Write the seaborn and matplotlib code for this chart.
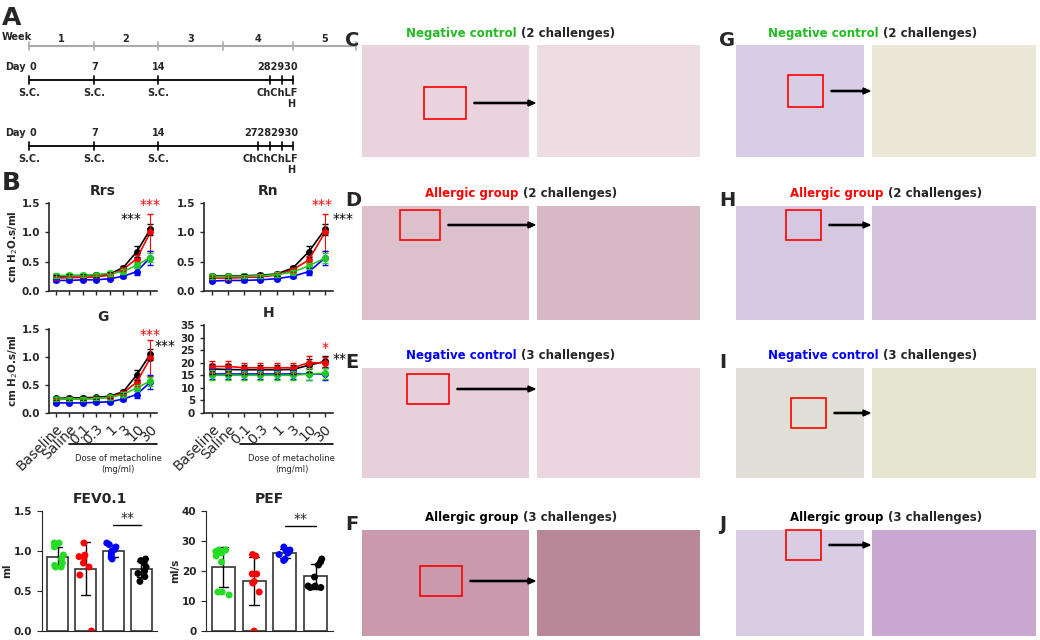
import numpy as np
import pandas as pd
import matplotlib
matplotlib.use("Agg")
import matplotlib.pyplot as plt
import seaborn as sns
from matplotlib.patches import Rectangle, FancyArrow

# ---------------- data ----------------
doses = ["Baseline", "Saline", "0.1", "0.3", "1", "3", "10", "30"]
group_names = ["Allergic 3", "Allergic 2", "Negative 3", "Negative 2"]
group_colors = ["black", "red", "blue", "#22cc22"]

rrs_black = [.25, .26, .26, .27, .29, .40, .67, 1.05]
rrs_red = [.22, .23, .23, .24, .27, .37, .55, 1.00]
rrs_blue = [.18, .18, .19, .19, .21, .25, .33, .57]
rrs_green = [.26, .27, .27, .28, .30, .33, .44, .57]
err_black = [.03, .03, .03, .03, .03, .03, .09, .10]
err_red = [.03, .03, .03, .03, .03, .03, .06, .32]
err_blue = [.02, .02, .02, .02, .02, .03, .06, .12]
err_green = [.04, .04, .03, .03, .04, .04, .05, .08]

rn_black = [.26, .26, .26, .27, .29, .39, .67, 1.05]
rn_red = [.22, .22, .23, .24, .27, .36, .53, 1.00]
rn_blue = [.17, .18, .18, .19, .21, .25, .33, .56]
rn_green = [.25, .25, .25, .26, .28, .32, .43, .56]

g_black = [.26, .27, .27, .28, .30, .38, .68, 1.05]
g_red = [.24, .25, .25, .26, .28, .36, .55, .98]
g_blue = [.18, .18, .18, .19, .20, .25, .33, .55]
g_green = [.25, .25, .25, .26, .28, .33, .45, .57]

h_black = [17.5, 17.3, 17.2, 17.2, 17.2, 17.3, 19.0, 20.5]
h_red = [18.5, 18.5, 18.0, 18.0, 18.0, 18.0, 20.0, 20.0]
h_blue = [15.5, 15.5, 15.5, 15.5, 15.5, 15.5, 15.5, 15.5]
h_green = [15.0, 15.0, 15.0, 15.0, 15.0, 15.0, 15.5, 15.8]
h_err = [2.0, 2.0, 1.8, 1.8, 1.8, 1.8, 2.5, 2.2]

bar_groups = ["Negative 2", "Allergic 2", "Negative 3", "Allergic 3"]
bar_colors = ["#22dd22", "red", "blue", "black"]
fev_green = [1.10, 1.10, 1.05, 0.95, 0.90, 0.85, 0.82, 0.80, 0.80]
fev_red = [1.10, 0.95, 0.93, 0.92, 0.85, 0.80, 0.70, 0.00]
fev_blue = [1.10, 1.08, 1.05, 1.02, 1.00, 0.98, 0.95, 0.92, 0.90]
fev_black = [0.90, 0.88, 0.85, 0.80, 0.75, 0.72, 0.68, 0.62]
pef_green = [27, 27, 26.5, 26, 25, 23, 13, 13, 12]
pef_red = [25.5, 25, 19, 19, 16.5, 16, 13, 0]
pef_blue = [28, 27, 27, 26.5, 26, 25.5, 24, 23.5]
pef_black = [24, 23, 22, 18, 15, 15, 14.5, 14.5]

W, H = 1040, 640
fig = plt.figure(figsize=(10.4, 6.4), dpi=100)
fig.patch.set_facecolor("white")
sns.set_style("ticks")
plt.rcParams["font.family"] = "DejaVu Sans"

def ax_px(x0, y0, x1, y1):
    return fig.add_axes([x0 / W, 1 - y1 / H, (x1 - x0) / W, (y1 - y0) / H])

ov = fig.add_axes([0, 0, 1, 1], zorder=-1)
ov.set_xlim(0, W); ov.set_ylim(H, 0); ov.axis("off")

# ---------------- panel A timeline ----------------
ov.text(2, 18, "A", fontsize=18, fontweight="bold", va="center")
ov.text(2, 37, "Week", fontsize=7, fontweight="bold", va="center")
ov.plot([29, 356], [46, 46], color="#aaaaaa", lw=1.5)
wk = [29, 94, 158, 223, 293, 356]
for x in wk:
    ov.plot([x, x], [42, 50], color="#aaaaaa", lw=1.2)
for i in range(5):
    ov.text((wk[i] + wk[i + 1]) / 2, 39, str(i + 1), fontsize=7, fontweight="bold", ha="center", va="center")

def timeline(y, extra):
    ov.text(5, y - 13, "Day", fontsize=7, fontweight="bold", va="center")
    ov.plot([29, 293], [y, y], color="black", lw=1.3)
    for x, lab in [(29, "0"), (94, "7"), (158, "14")]:
        ov.plot([x, x], [y - 4, y + 4], color="black", lw=1.2)
        ov.text(x + 1, y - 13, lab, fontsize=7, fontweight="bold", ha="left" if x == 29 else "center", va="center")
        ov.text(x, y + 13, "S.C.", fontsize=7, fontweight="bold", ha="center", va="center")
    for x in extra:
        ov.plot([x, x], [y - 4, y + 4], color="black", lw=1.2)
    ov.text(298, y - 13, "".join(str(d) for d in range(30 - len(extra) + 1, 31)), fontsize=7,
            fontweight="bold", ha="right", va="center")
    ov.text(298, y + 13, "Ch" * (len(extra) - 1) + "LF", fontsize=7, fontweight="bold", ha="right", va="center")
    ov.text(295, y + 24, "H", fontsize=7, fontweight="bold", ha="right", va="center")

timeline(80, [270, 282, 293])
timeline(146, [258, 270, 282, 293])

# ---------------- panel B line plots ----------------
ov.text(2, 183, "B", fontsize=18, fontweight="bold", va="center")
err_all = [err_black, err_red, err_blue, err_green]

def lineplot(ax, series, errs, ylim, yticks, title, stars, show_x):
    rows = []
    for name, vals in zip(group_names, series):
        for d, v in zip(doses, vals):
            rows.append((name, d, v))
    df = pd.DataFrame(rows, columns=["group", "dose", "value"])
    sns.lineplot(data=df, x="dose", y="value", hue="group", palette=group_colors,
                 hue_order=group_names, marker="o", markersize=5, markeredgewidth=0,
                 sort=False, legend=False, ax=ax, lw=1.2)
    for vals, e, c in zip(series, errs, group_colors):
        ax.errorbar(range(len(doses)), vals, yerr=e, fmt="none", ecolor=c, capsize=2, lw=0.8)
    ax.set_ylim(*ylim)
    ax.set_yticks(yticks)
    ax.set_xlim(-0.5, len(doses) - 0.5)
    ax.set_title(title, fontsize=10, fontweight="bold", pad=6)
    ax.set_xlabel(""); ax.set_ylabel("")
    ax.tick_params(labelsize=7.5, width=1, length=3)
    for lab in ax.get_yticklabels():
        lab.set_fontweight("bold")
    ax.set_xticks(range(len(doses)))
    if show_x:
        ax.set_xticklabels(doses, rotation=45, ha="right", rotation_mode="anchor", fontsize=10)
    else:
        ax.set_xticklabels([])
    for s in ["left", "bottom"]:
        ax.spines[s].set_linewidth(1.2)
    sns.despine(ax=ax)
    for (x, y, txt, c) in stars:
        ax.text(x, y, txt, color=c, fontsize=10, ha="center", va="center", transform=ax.transData, clip_on=False)

ax = ax_px(49, 203, 157, 291)
lineplot(ax, [rrs_black, rrs_red, rrs_blue, rrs_green], err_all, (0, 1.5), [0, .5, 1, 1.5], "Rrs",
         [(7.0, 1.47, "***", "red"), (5.6, 1.22, "***", "black")], False)
ax.set_ylabel("cm H$_2$O.s/ml", fontsize=7.5, fontweight="bold", labelpad=1)
ax = ax_px(204, 203, 333, 291)
lineplot(ax, [rn_black, rn_red, rn_blue, rn_green], err_all, (0, 1.5), [0, .5, 1, 1.5], "Rn",
         [(6.8, 1.47, "***", "red"), (8.1, 1.22, "***", "black")], False)
ax = ax_px(49, 329, 157, 413)
lineplot(ax, [g_black, g_red, g_blue, g_green], err_all, (0, 1.5), [0, .5, 1, 1.5], "G",
         [(7.0, 1.4, "***", "red"), (8.1, 1.2, "***", "black")], True)
ax.set_ylabel("cm H$_2$O.s/ml", fontsize=7.5, fontweight="bold", labelpad=1)
ax = ax_px(204, 325, 333, 413)
lineplot(ax, [h_black, h_red, h_blue, h_green], [h_err] * 4, (0, 35), range(0, 36, 5), "H",
         [(7.0, 26.0, "*", "red"), (7.9, 21.5, "**", "black")], True)

for x0 in [(69, 157), (240, 333)]:
    ov.plot(x0, [444, 444], color="black", lw=1.2)
    ov.text((x0[0] + x0[1]) / 2 + 5, 464, "Dose of metacholine\n(mg/ml)", fontsize=6, ha="center", va="center")

# ---------------- bar plots ----------------
def barplot(ax, vals, ylim, yticks, title, ylabel, sig_y):
    rows = []
    for g, v in zip(bar_groups, vals):
        rows += [(g, x) for x in v]
    df = pd.DataFrame(rows, columns=["group", "value"])
    sns.barplot(data=df, x="group", y="value", order=bar_groups, errorbar="sd", capsize=0.3,
                color="white", edgecolor="#333333", linewidth=1.2, err_kws={"linewidth": 1.0, "color": "black"},
                width=0.75, ax=ax)
    sns.stripplot(data=df, x="group", y="value", order=bar_groups, hue="group", hue_order=bar_groups,
                  palette=bar_colors, size=5, jitter=0.25, legend=False, ax=ax, zorder=5)
    ax.set_ylim(*ylim); ax.set_yticks(yticks)
    ax.set_title(title, fontsize=10, fontweight="bold", pad=6)
    ax.set_xlabel(""); ax.set_ylabel(ylabel, fontsize=7.5, fontweight="bold", labelpad=1)
    ax.set_xticks(range(4)); ax.set_xticklabels([]); ax.tick_params(axis="x", length=0)
    ax.tick_params(labelsize=7.5)
    for lab in ax.get_yticklabels():
        lab.set_fontweight("bold")
    sns.despine(ax=ax)
    ax.plot([2, 3], [sig_y, sig_y], color="black", lw=1)
    ax.text(2.5, sig_y, "**", ha="center", va="bottom", fontsize=10)

ax = ax_px(42, 511, 157, 631)
barplot(ax, [fev_green, fev_red, fev_blue, fev_black], (0, 1.5), [0, .5, 1, 1.5], "FEV0.1", "ml", 1.33)
ax = ax_px(206, 511, 333, 631)
barplot(ax, [pef_green, pef_red, pef_blue, pef_black], (0, 40), [0, 10, 20, 30, 40], "PEF", "ml/s", 35)

# ---------------- histology panels (placeholders) ----------------
def title2(x, y, first, color, rest):
    t = ov.text(x, y, first, color=color, fontsize=8.5, fontweight="bold", ha="left", va="center")
    ov.annotate(rest, xy=(1, 0.5), xycoords=t, xytext=(3, 0), textcoords="offset points",
                fontsize=8.5, fontweight="bold", va="center", ha="left")

def panel(letter, x0, xm, x1, y0, y1, fill, fill2, boxrel, tx, first, color, rest):
    ov.text(x0 - 17, y0 - 5, letter, fontsize=14, fontweight="bold", va="center")
    ov.add_patch(Rectangle((x0, y0), xm - x0 - 4, y1 - y0, facecolor=fill, edgecolor="none"))
    ov.add_patch(Rectangle((xm + 4, y0), x1 - xm - 4, y1 - y0, facecolor=fill2, edgecolor="none"))
    bx, by, bw, bh = boxrel
    ov.add_patch(Rectangle((x0 + bx, y0 + by), bw, bh, facecolor="none", edgecolor="red", lw=1.2))
    ov.add_patch(FancyArrow(x0 + bx + bw + 8, y0 + by + bh / 2, xm - x0 - bx - bw - 6, 0,
                            width=1.2, head_width=6, head_length=7, color="black", length_includes_head=True))
    title2(tx, y0 - 12, first, color, rest)

rows_y = [(45, 157), (206, 320), (368, 478), (530, 636)]
he = ["#e9d3dc", "#dcc0cc", "#e6d0da", "#c99aac"]
he2 = ["#eddce2", "#d9b8c6", "#ebd6df", "#b98898"]
pas = ["#d7cde4", "#d5c8e0", "#e1e0d6", "#d8cde2"]
pas2 = ["#ece8d8", "#d6c2dc", "#e6e5cf", "#c8a8d0"]
specs = [("Negative control", "#22bb22", "(2 challenges)"),
         ("Allergic group", "red", "(2 challenges)"),
         ("Negative control", "blue", "(3 challenges)"),
         ("Allergic group", "black", "(3 challenges)")]
lettersL = ["C", "D", "E", "F"]
lettersR = ["G", "H", "I", "J"]
boxL = [(62, 42, 42, 32), (38, 4, 40, 30), (45, 6, 42, 30), (58, 36, 42, 30)]
boxR = [(52, 30, 35, 32), (50, 4, 35, 30), (55, 30, 35, 30), (50, 0, 35, 30)]
for i, (y0, y1) in enumerate(rows_y):
    f, c, r = specs[i]
    panel(lettersL[i], 362, 533, 700, y0, y1, he[i], he2[i], boxL[i], 406 if i in (0, 2) else 425,
          f, c, r)
    panel(lettersR[i], 736, 868, 1036, y0, y1, pas[i], pas2[i], boxR[i], 768 if i in (0, 2) else 790,
          f, c, r)

fig.savefig("out.png", dpi=100, facecolor="white")
